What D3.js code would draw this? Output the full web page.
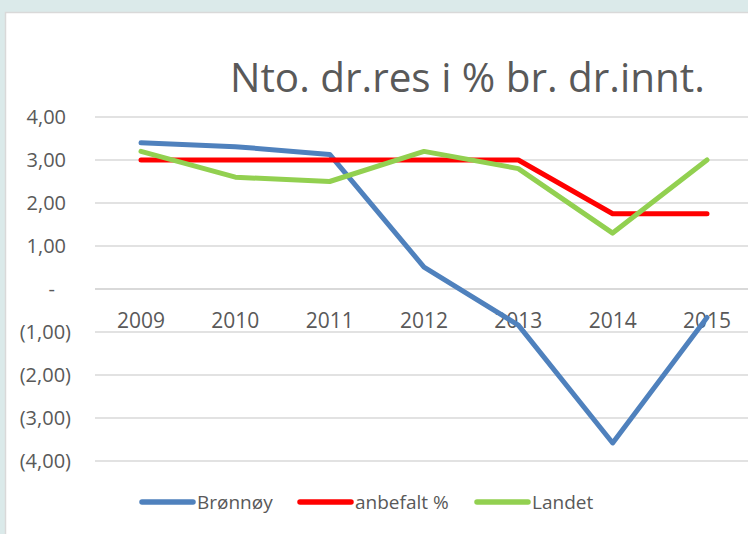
<!DOCTYPE html>
<html>
<head>
<meta charset="utf-8">
<script src="https://cdn.jsdelivr.net/npm/d3@7"></script>
<style>
  html, body { margin: 0; padding: 0; background: #dbeaea; }
  svg { display: block; }
  text { font-family: "Open Sans", "Liberation Sans", sans-serif; fill: #595959; }
</style>
</head>
<body>
<svg id="chart"></svg>
<script>
// chart data
const years = ["2009", "2010", "2011", "2012", "2013", "2014", "2015"];
const bronnoy = [3.40, 3.31, 3.13, 0.51, -0.84, -3.58, -0.66];
const anbefalt = [3.00, 3.00, 3.00, 3.00, 3.00, 1.75, 1.75];
const landet = [3.20, 2.60, 2.50, 3.20, 2.80, 1.30, 3.00];
const yTicks = [4, 3, 2, 1, 0, -1, -2, -3, -4];

const series = [
  { name: "Brønnøy", values: bronnoy, color: "#4f81bd" },
  { name: "anbefalt %", values: anbefalt, color: "#ff0000" },
  { name: "Landet", values: landet, color: "#92d050" }
];

const W = 748, H = 534;
const svg = d3.select('#chart').attr('width', W).attr('height', H);

// white chart panel, runs off the right and bottom edges
svg.append('rect')
  .attr('x', 5.5).attr('y', 12.5)
  .attr('width', W).attr('height', H)
  .attr('fill', '#ffffff')
  .attr('stroke', '#d9d9d9')
  .attr('stroke-width', 1.5);

const x = d3.scalePoint().domain(years).range([141, 707]);
const y = d3.scaleLinear().domain([-4, 4]).range([461, 117]);

// title
const title = svg.append('text')
  .attr('x', 230).attr('y', 92)
  .attr('font-size', 42)
  .text('Nto. dr.res i % br. dr.innt.');
const tw = title.node().getComputedTextLength();
title.attr('font-size', 42 * 475 / tw);

// gridlines
svg.append('g').selectAll('line')
  .data(yTicks)
  .join('line')
  .attr('x1', 95).attr('x2', W)
  .attr('y1', d => y(d)).attr('y2', d => y(d))
  .attr('stroke', '#d9d9d9')
  .attr('stroke-width', d => d === 0 ? 2.2 : 1.3);

// y labels, accounting style
function fmt(v) {
  if (v === 0) return '-';
  const s = Math.abs(v).toFixed(2).replace('.', ',');
  return v < 0 ? '(' + s + ')' : s;
}
svg.append('g').selectAll('text')
  .data(yTicks)
  .join('text')
  .attr('x', d => d > 0 ? 66 : d < 0 ? 71 : 55)
  .attr('y', d => y(d))
  .attr('dy', '0.35em')
  .attr('text-anchor', 'end')
  .attr('font-size', 20)
  .text(fmt);

// category labels just under the zero line
svg.append('g').selectAll('text')
  .data(years)
  .join('text')
  .attr('x', d => x(d))
  .attr('y', y(0) + 39)
  .attr('text-anchor', 'middle')
  .attr('font-size', 21)
  .text(d => d);

// lines
const line = d3.line()
  .x((d, i) => x(years[i]))
  .y(d => y(d));

svg.append('g').selectAll('path')
  .data(series)
  .join('path')
  .attr('d', d => line(d.values))
  .attr('fill', 'none')
  .attr('stroke', d => d.color)
  .attr('stroke-width', 5)
  .attr('stroke-linecap', 'round')
  .attr('stroke-linejoin', 'round');

// legend
const legendX = [142, 300, 477];
const leg = svg.append('g').selectAll('g')
  .data(series)
  .join('g')
  .attr('transform', (d, i) => `translate(${legendX[i]},502)`);

leg.append('line')
  .attr('x1', 0).attr('x2', 51)
  .attr('stroke', d => d.color)
  .attr('stroke-width', 5.5)
  .attr('stroke-linecap', 'round');

leg.append('text')
  .attr('x', 55)
  .attr('dy', '0.35em')
  .attr('font-size', 19)
  .text(d => d.name);
</script>
</body>
</html>
